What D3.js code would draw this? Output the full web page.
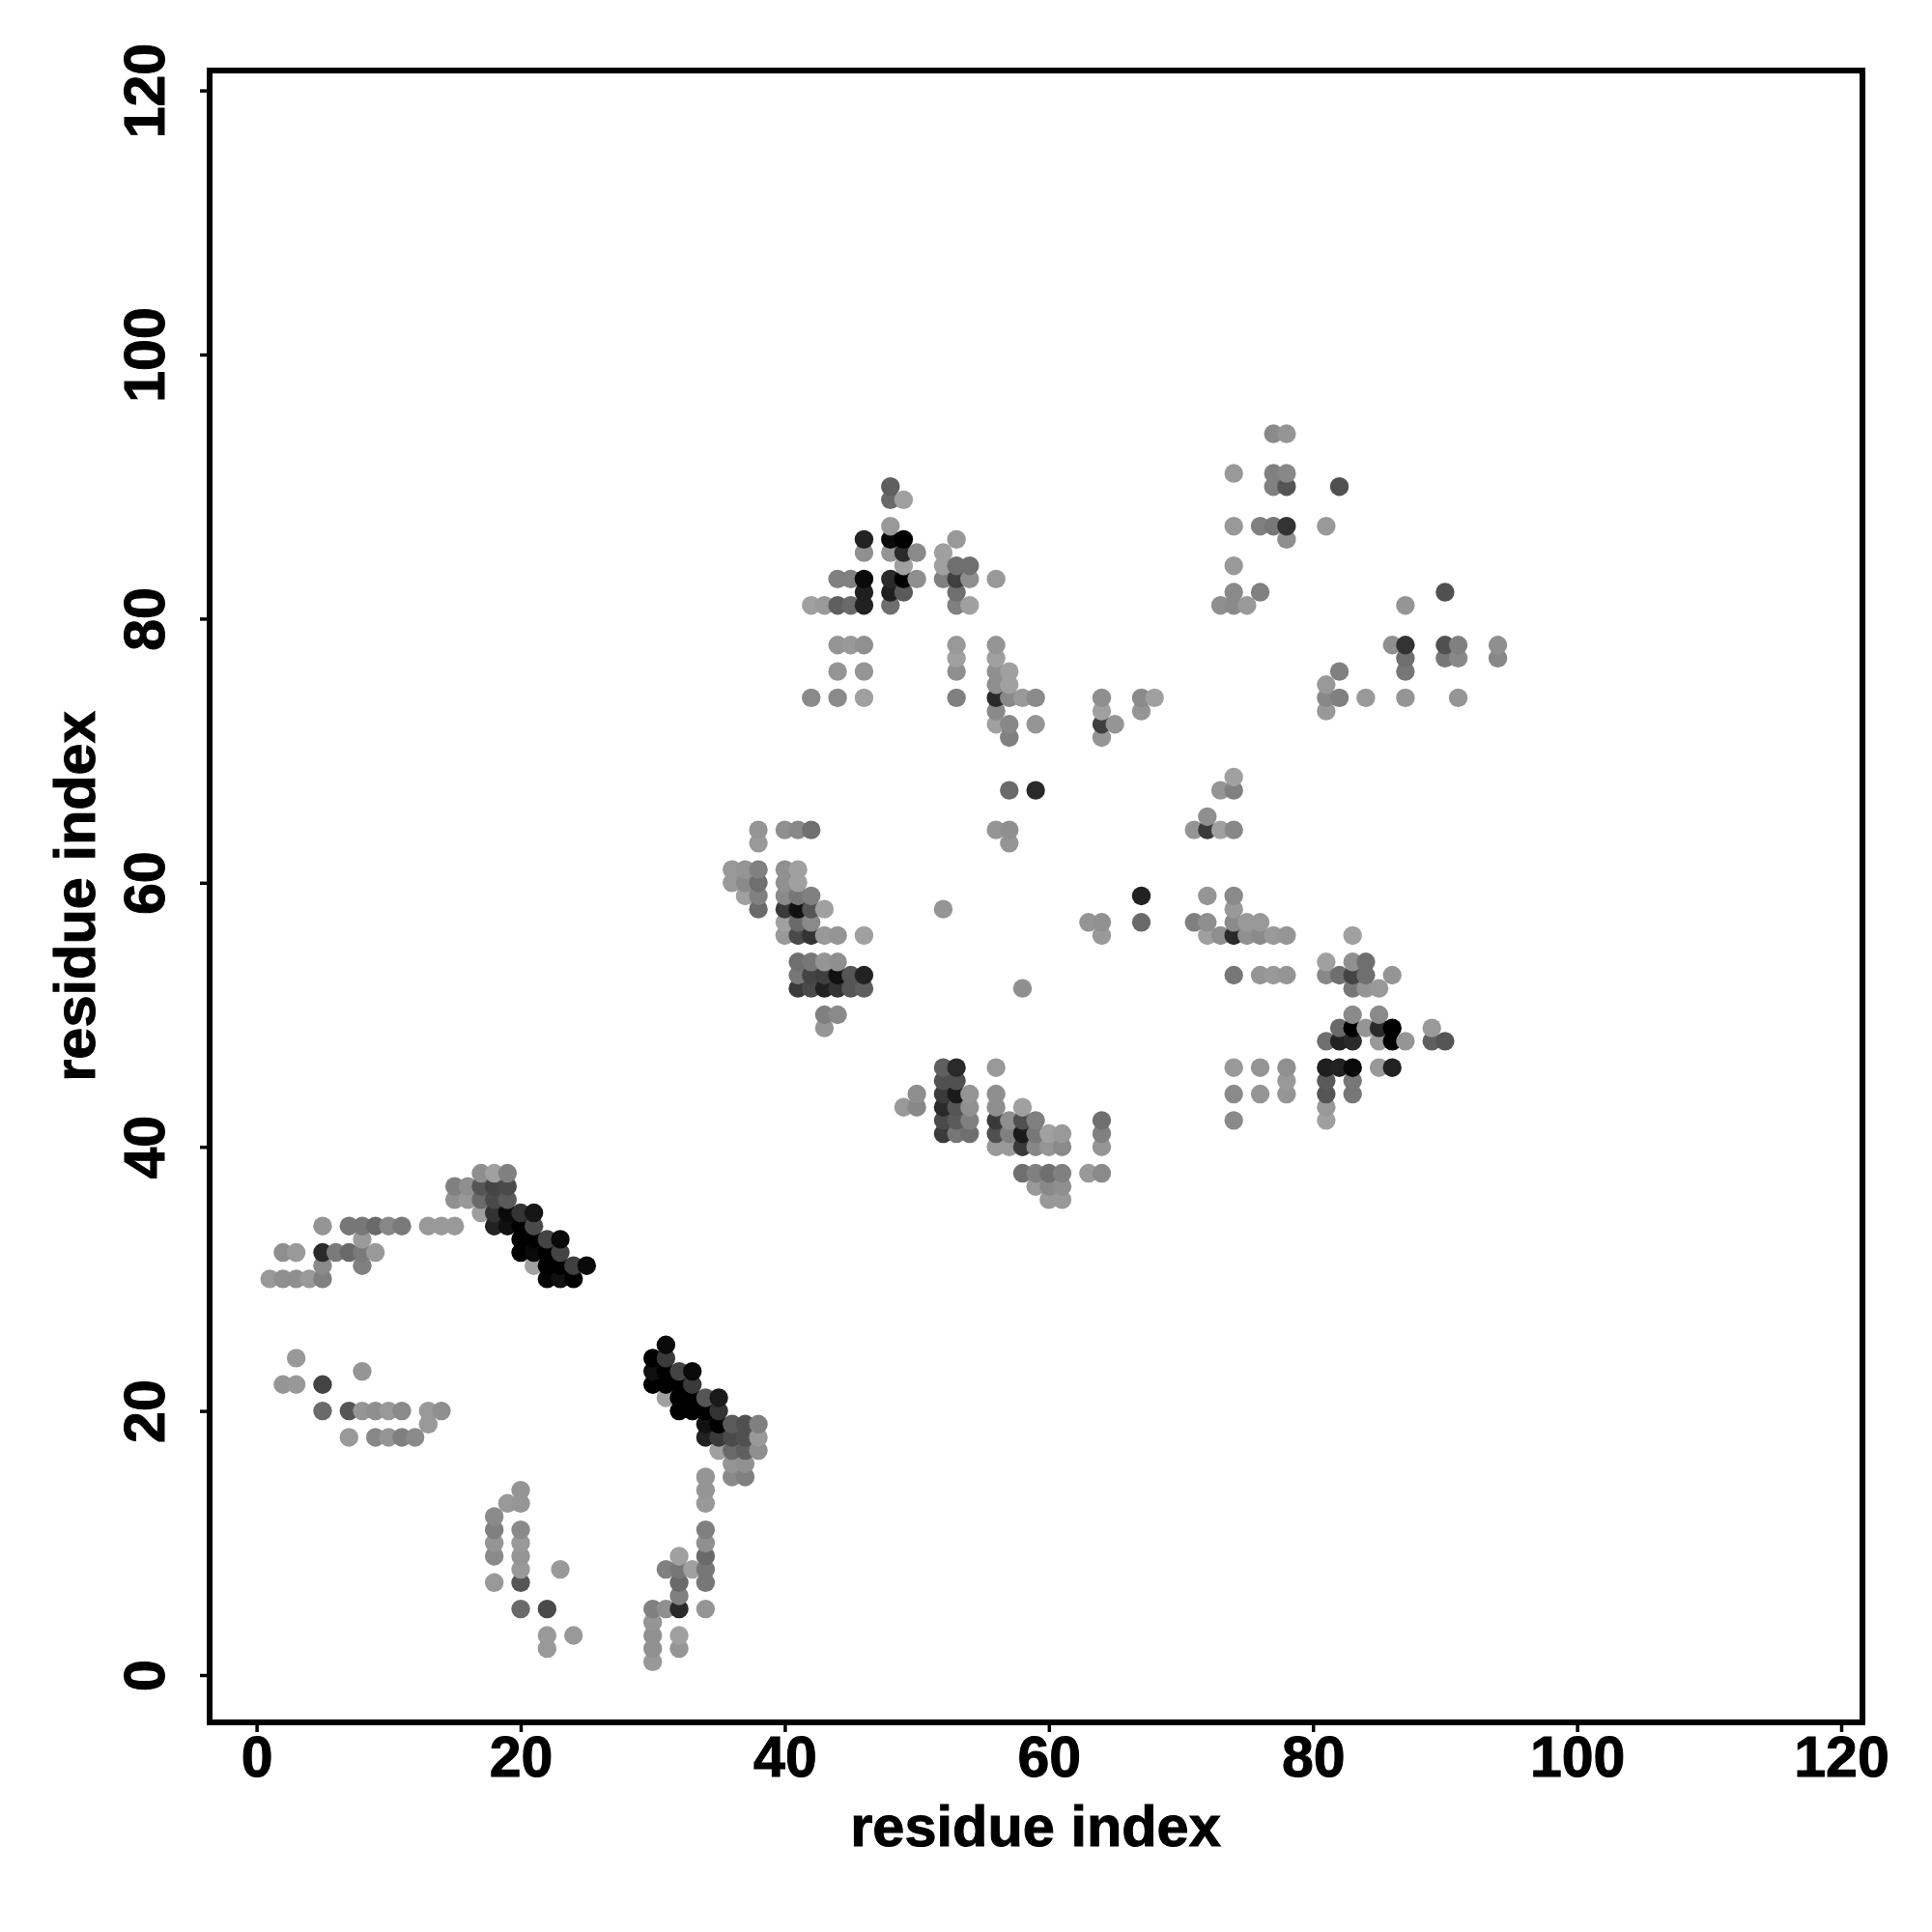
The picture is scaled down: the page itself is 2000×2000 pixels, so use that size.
<!DOCTYPE html>
<html><head><meta charset="utf-8">
<script src="https://cdn.jsdelivr.net/npm/d3@7"></script>
<style>html,body{margin:0;padding:0;background:#fff}svg{display:block}</style>
</head><body><div id="chart"></div>
<script>
const tickValues = [0,20,40,60,80,100,120];
const axisTitle = "residue index";
// contact map: residue i, residue j, grey level of each dot (listed by row)
const resI = [
17,18,19, 15,16,17,18,19, 15,16,17,18,19, 17,18,19,20,21,
5,7,8,9,10,11,13,14,15,18,19,20,21, 8,20,21,22,23,
2,3,5,6,7,8,9,20,21,22,23, 5,8,21,22,23,24,25,
1,2,3,4,5,22,23,24, 3, 8, 2,3,5,
31, 30,31, 30,31,32,33, 30,31,32,33, 31,32,33,34,35, 5,7,8,9,10,11,13,14,32,33,34,35,
34,35,36,37,38, 13,34,35,36,37,38, 7,9,10,11,12,35,36,37,38, 36,37, 34,36,37,
20,34, 19,20,34, 18, 18,20,34, 18,20,34, 18,20,32,34,
20,23,31,32,33,34, 18,20,32,34, 32, 20,22,30,31,32,34, 30, 22,24,30,32, 22,30,32, 30,
57,59, 38,40,41,42,56,57, 38,57, 36,37,38,40,41, 36,37,38,40,41, 37,38,40,41,42,
38,40,41,42,43,52, 40,41,42,63,64, 40,41,42,43,44,46,64,
41,42,43,44, 41,42,43,44,45,46, 41,42,43,44,45,46,58, 43,44, 43,
52,53,56, 52,53, 50,52,53,54,56, 49,50,52,53,54,56,58,
52,53,54,56,57,58,59,64, 52,53,54,56,57,58,59,60,61,64, 56,57,58,59,60,61,64,
58,59,60,61,63,64, 59,60,61, 60,61,
67,72,74, 74, 67,71,72,74,75,76, 72,73,74,75,76,77,78,83,
81,83,84, 74,76,77,78,81,82,83,84,86, 83,84,85, 83,85,
82,83,84,85,86,89, 81,82,83,85,86,87,89,90, 74,76,78,81,82,83,85,86,
78,81,83, 74,76,78,81,83, 81, 74,81,
48, 48,49, 48, 46,48,49,53, 46,48,49,50,52, 49,52,53,54,
44,45,46,48,49,50,52,53,54,56, 46,48,49,53, 42,43,44,45,46,48,53,54,
44,45,46,53,56, 53,56, 44,46,53,56,57, 56,57,
42,44,46,53,56,57,58,59,64,67,68, 56,64,67, 56,57,59,64,65, 57,64,
74, 73,74, 71,72,73,74, 72,
77,78, 74,77,78, 77,78,82, 74,76,77,78,81, 78, 74, 74,76,90, 73,74,75,87,
86,87,90,91,94, 87,90,91,94, 82,87, 81, 81,82,84,87,91, 81
];
const resJ = [
38,38,38, 37,37,37,37,37, 36,36,36,36,36, 35,35,35,35,35,
34,34,34,34,34,34,34,34,34,34,34,34,34, 33,33,33,33,33,
32,32,32,32,32,32,32,32,32,32,32, 31,31,31,31,31,31,31,
30,30,30,30,30,30,30,30, 24, 23, 22,22,22,
25, 24,24, 23,23,23,23, 22,22,22,22, 21,21,21,21,21, 20,20,20,20,20,20,20,20,20,20,20,20,
19,19,19,19,19, 19,18,18,18,18,18, 18,18,18,18,18,17,17,17,17, 16,16, 15,15,15,
14,14, 13,13,13, 12, 11,11,11, 10,10,10, 9,9,9,9,
8,8,8,8,8,8, 7,7,7,7, 6, 5,5,5,5,5,5, 4, 3,3,3,3, 2,2,2, 1,
67,67, 64,64,64,64,64,64, 63,63, 61,61,61,61,61, 60,60,60,60,60, 59,59,59,59,59,
58,58,58,58,58,58, 57,57,57,57,57, 56,56,56,56,56,56,56,
54,54,54,54, 53,53,53,53,53,53, 52,52,52,52,52,52,52, 50,50, 49,
46,46,46, 45,45, 44,44,44,44,44, 43,43,43,43,43,43,43,
42,42,42,42,42,42,42,42, 41,41,41,41,41,41,41,41,41,41, 40,40,40,40,40,40,40,
38,38,38,38,38,38, 37,37,37, 36,36,
59,59,59, 58, 57,57,57,57,57,57, 56,56,56,56,56,56,56,56,
54,54,54, 53,53,53,53,53,53,53,53,53, 52,52,52, 50,50,
49,49,49,49,49,49, 48,48,48,48,48,48,48,48, 46,46,46,46,46,46,46,46,
45,45,45, 44,44,44,44,44, 43, 42,42,
90, 89,89, 87, 86,86,86,86, 85,85,85,85,85, 84,84,84,84,
83,83,83,83,83,83,83,83,83,83, 82,82,82,82, 81,81,81,81,81,81,81,81,
78,78,78,78,78, 77,77, 76,76,76,76,76, 75,75,
74,74,74,74,74,74,74,74,74,74,74, 73,73,73, 72,72,72,72,72, 71,71,
68, 67,67, 64,64,64,64, 65,
94,94, 91,91,91, 90,90,90, 87,87,87,87,87, 86, 84, 82,82,82, 81,81,81,81,
78,78,78,78,78, 77,77,77,77, 76,76, 75, 74,74,74,74,74, 73
];
const grey = [
143,160,128, 128,143,85,68,74, 144,153,106,74,90, 158,51,10,51,21,
149,119,119,106,136,122,153,153,153,34,17,0,74, 154,0,0,68,10,
143,153,42,122,106,122,153,0,10,0,68, 138,128,160,0,0,63,10,
153,143,143,153,128,5,17,0, 153, 149, 149,153,68,
10, 0,58, 15,0,68,10, 0,0,0,58, 160,0,0,85,26, 106,85,149,143,153,138,153,143,0,0,0,51,
17,0,90,80,128, 153,34,58,74,80,153, 153,136,149,128,138,160,106,95,143, 149,144, 149,138,128,
149,149, 153,149,153, 138, 128,138,128, 149,153,144, 138,149,160,106,
153,153,128,119,160,119, 153,85,106,119, 128, 106,74,128,143,42,149, 149, 153,153,144,160, 153,144,149, 153,
106,42, 149,143,136,111,149,143, 153,149, 153,149,128,144,160, 153,138,111,144,160, 160,128,138,119,128,
106,58,17,85,160,149, 160,106,138,149,144, 153,74,51,153,149,160,153,
111,119,149,143, 119,68,63,17,85,34, 58,74,34,51,85,95,143, 128,138, 149,
95,42,153, 80,80, 143,58,26,149,143, 153,136,42,85,144,143,160,
74,90,128,58,143,80,128,111, 58,119,111,80,128,26,119,160,153,128, 153,154,58,136,149,138,149,
111,128,111,128,153,138, 153,136,143, 153,153,
34,149,138, 153, 106,128,143,138,153,153, 160,143,42,144,138,153,149,160,
160,144,111, 119,149,153,149,136,111,68,111,149, 119,149,153, 138,138,
106,0,149,42,0,153, 111,34,42,153,0,149,95,85, 153,149,144,31,34,10,153,34,
153,90,119, 138,149,149,85,119, 153, 138,160,
95, 106,160, 153, 34,10,0,153, 144,149,42,138,160, 160,160,111,111,
128,128,10,42,0,143,128,63,143,153, 31,31,90,111, 160,153,95,106,34,111,128,160,
149,153,144,153,149, 160,160, 149,149,143,143,160, 143,160,
138,138,160,128,42,136,153,138,143,138,160, 138,160,149, 160,136,149,63,149, 128,149,
160, 149,128, 149,58,160,136, 143,
138,149, 153,128,136, 128,85,80, 153,128,119,51,153, 143, 153, 138,128,80, 143,138,153,149,
143,51,80,128,143, 111,119,136,136, 128,119, 153, 136,128,153,149,149, 153
];

const W = 2000, H = 2000;
const frame = {left:217, right:1928, top:73, bottom:1783};
const x = d3.scaleLinear().domain([0,120]).range([265.6,1906]);
const y = d3.scaleLinear().domain([0,120]).range([1734,93.6]);

const svg = d3.select("#chart").append("svg").attr("width",W).attr("height",H);
const font = "'Liberation Sans', Arial, Helvetica, sans-serif";

const dots = resI.map((d,k)=>({i:d,j:resJ[k],g:grey[k]}))
  .sort((a,b)=>d3.ascending(a.i,b.i)||d3.ascending(a.j,b.j));

svg.append("g").selectAll("circle").data(dots).join("circle")
  .attr("cx",d=>x(d.i)).attr("cy",d=>y(d.j)).attr("r",9.7)
  .attr("fill",d=>d3.rgb(d.g,d.g,d.g).formatHex());

svg.append("rect").attr("x",frame.left).attr("y",frame.top)
  .attr("width",frame.right-frame.left).attr("height",frame.bottom-frame.top)
  .attr("fill","none").attr("stroke","#000").attr("stroke-width",6);

const gx = svg.append("g").attr("transform",`translate(0,${frame.bottom})`)
  .call(d3.axisBottom(x).tickValues(tickValues).tickSize(10).tickPadding(0).tickFormat(d3.format("d")));
const gy = svg.append("g").attr("transform",`translate(${frame.left},0)`)
  .call(d3.axisLeft(y).tickValues(tickValues).tickSize(10).tickFormat(d3.format("d")));
[gx,gy].forEach(g=>{
  g.select(".domain").remove();
  g.selectAll(".tick line").attr("stroke","#000").attr("stroke-width",3.5);
  g.selectAll(".tick text").attr("fill","#000").attr("stroke","#000").attr("stroke-width",1)
   .style("font-family",font).style("font-weight","bold").style("font-size","59px");
});
gx.selectAll(".tick text").attr("dy",null).attr("y",56).attr("text-anchor","middle");
gy.selectAll(".tick text").attr("dy",null).attr("x",null).attr("y",null)
  .attr("text-anchor","middle").attr("transform","translate(-47,0) rotate(-90)");

svg.append("text").attr("x",1072).attr("y",1911).attr("text-anchor","middle")
  .attr("stroke","#000").attr("stroke-width",1)
  .style("font-family",font).style("font-weight","bold").style("font-size","59.5px").text(axisTitle);
svg.append("text").attr("transform","translate(98,928) rotate(-90)").attr("text-anchor","middle")
  .attr("stroke","#000").attr("stroke-width",1)
  .style("font-family",font).style("font-weight","bold").style("font-size","59.5px").text(axisTitle);
if (resI.length!==resJ.length||resI.length!==grey.length) console.error("len",resI.length,resJ.length,grey.length);
</script></body></html>
